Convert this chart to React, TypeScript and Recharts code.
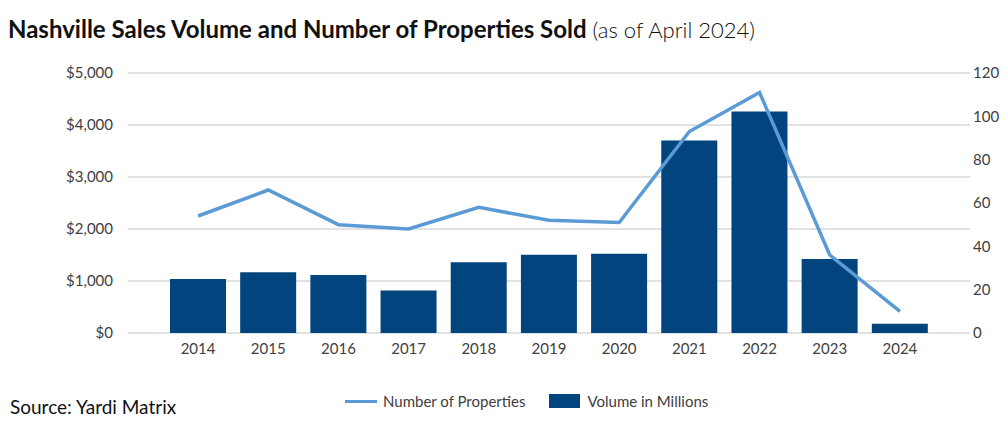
import { ComposedChart, Bar, Line, XAxis, YAxis, CartesianGrid } from 'recharts';

const years = ['2014', '2015', '2016', '2017', '2018', '2019', '2020', '2021', '2022', '2023', '2024'];
const volumeMillions = [1040, 1170, 1115, 815, 1360, 1505, 1525, 3700, 4260, 1425, 180];
const numberOfProperties = [54, 66, 50, 48, 58, 52, 51, 93, 111, 36, 10];
const leftTicks = [0, 1000, 2000, 3000, 4000, 5000];
const rightTicks = [0, 20, 40, 60, 80, 100, 120];

const data = years.map((year, i) => ({
  year,
  volume: volumeMillions[i],
  properties: numberOfProperties[i],
}));

const barColor = '#02447D';
const lineColor = '#5B9BD5';
const textColor = '#404040';
const gridColor = '#d9d9d9';
const font = 'Lato, "Open Sans", sans-serif';

const fmtDollar = (v: number) => '$' + v.toLocaleString('en-US');

function ChartLegend() {
  return (
    <div
      style={{
        position: 'absolute',
        left: 345,
        top: 392,
        display: 'flex',
        alignItems: 'center',
        fontFamily: font,
        fontSize: 15,
        color: textColor,
        whiteSpace: 'nowrap',
      }}
    >
      <span style={{ display: 'inline-block', width: 32, height: 3, background: lineColor, marginRight: 6 }} />
      <span style={{ marginRight: 24 }}>Number of Properties</span>
      <span style={{ display: 'inline-block', width: 31, height: 14, background: barColor, marginRight: 7 }} />
      <span>Volume in Millions</span>
    </div>
  );
}

export default function App() {
  return (
    <div style={{ position: 'absolute', left: 0, top: 0, width: 1007, height: 433, background: '#fff', overflow: 'hidden' }}>
      <div
        style={{
          position: 'absolute',
          left: 8,
          top: 14,
          fontFamily: font,
          color: '#111',
          whiteSpace: 'nowrap',
        }}
      >
        <span style={{ fontWeight: 700, fontSize: 24 }}>Nashville Sales Volume and Number of Properties Sold</span>
        <span style={{ fontWeight: 300, fontSize: 22 }}> (as of April 2024)</span>
      </div>

      <div style={{ position: 'absolute', left: 0, top: 0 }}>
        <ComposedChart
          width={1007}
          height={380}
          data={data}
          margin={{ top: 73, right: 0, bottom: 17, left: 0 }}
        >
          <CartesianGrid yAxisId="left" vertical={false} stroke={gridColor} strokeWidth={1.5} />
          <XAxis
            dataKey="year"
            axisLine={false}
            tickLine={false}
            tickSize={0}
            tickMargin={10}
            height={30}
            padding={{ left: 35, right: 35 }}
            tick={{ fill: textColor, fontSize: 15, fontFamily: font }}
            interval={0}
          />
          <YAxis
            yAxisId="left"
            orientation="left"
            width={128}
            domain={[0, 5000]}
            ticks={leftTicks}
            tickFormatter={fmtDollar}
            axisLine={false}
            tickLine={false}
            tickSize={0}
            tickMargin={15}
            tick={{ fill: textColor, fontSize: 15, fontFamily: font }}
          />
          <YAxis
            yAxisId="right"
            orientation="right"
            width={37}
            domain={[0, 120]}
            ticks={rightTicks}
            axisLine={false}
            tickLine={false}
            tickSize={0}
            tickMargin={3}
            tick={{ fill: textColor, fontSize: 15, fontFamily: font, textAnchor: 'start' }}
          />
          <Bar yAxisId="left" dataKey="volume" name="Volume in Millions" fill={barColor} barSize={56} isAnimationActive={false} />
          <Line
            yAxisId="right"
            type="linear"
            dataKey="properties"
            name="Number of Properties"
            stroke={lineColor}
            strokeWidth={3.5}
            dot={false}
            activeDot={false}
            isAnimationActive={false}
          />
        </ComposedChart>
      </div>

      <ChartLegend />

      <div
        style={{
          position: 'absolute',
          left: 10,
          top: 395,
          fontFamily: font,
          fontSize: 19,
          color: '#111',
          whiteSpace: 'nowrap',
        }}
      >
        Source: Yardi Matrix
      </div>
    </div>
  );
}
